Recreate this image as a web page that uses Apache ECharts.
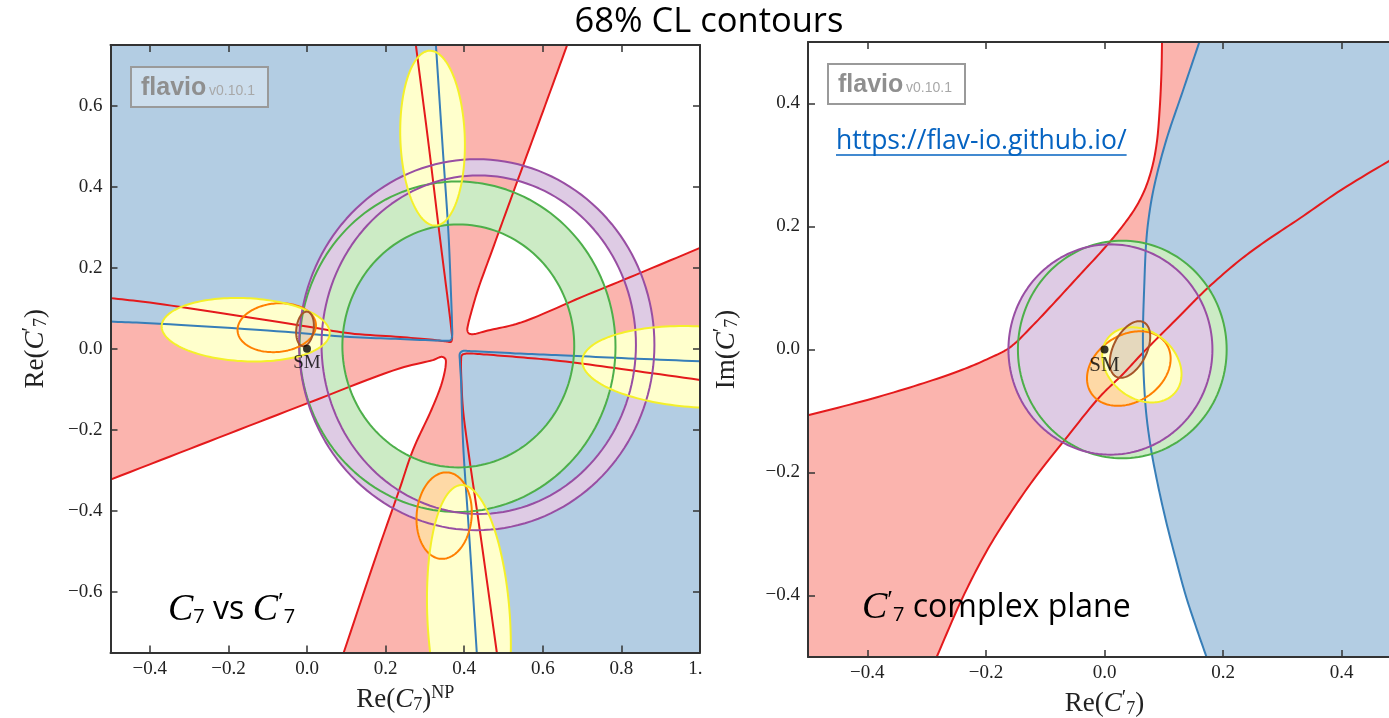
<!DOCTYPE html>
<html><head><meta charset="utf-8">
<script src="https://cdn.jsdelivr.net/npm/echarts@6/dist/echarts.min.js"></script>
<style>html,body{margin:0;padding:0;background:#fff;}#c{width:1389px;height:718px;}</style>
</head><body><div id="c"></div>
<script>
// ---------------- data ----------------
const leftXRange = [-0.5, 1.0];
const leftYRange = [-0.75, 0.75];
const rightXRange = [-0.5, 0.5];
const rightYRange = [-0.5, 0.5];
const leftXTicks = [-0.4, -0.2, 0.0, 0.2, 0.4, 0.6, 0.8, 1.0];
const leftYTicks = [-0.6, -0.4, -0.2, 0.0, 0.2, 0.4, 0.6];
const rightXTicks = [-0.4, -0.2, 0.0, 0.2, 0.4];
const rightYTicks = [-0.4, -0.2, 0.0, 0.2, 0.4];
const smPoint = [0.0, 0.0];

// left panel (Re C7^NP vs Re C7'): red constraint boundaries
const redLeftUR = [[0.662,0.75],[0.60,0.585],[0.53,0.40],[0.47,0.24],[0.435,0.146],[0.418,0.09],[0.41,0.06],[0.408,0.046],[0.412,0.038],[0.422,0.036],[0.46,0.045],[0.542,0.064],[0.70,0.128],[0.85,0.188],[1.0,0.249]];
const redLeftLR = [[1.0,-0.077],[0.80,-0.050],[0.644,-0.030],[0.542,-0.021],[0.45,-0.014],[0.405,-0.012],[0.394,-0.016],[0.392,-0.03],[0.393,-0.08],[0.397,-0.15],[0.41,-0.249],[0.44,-0.45],[0.483,-0.75]];
const redLeftLL = [[0.0935,-0.75],[0.18,-0.50],[0.235,-0.348],[0.27,-0.249],[0.317,-0.15],[0.343,-0.085],[0.353,-0.04],[0.352,-0.025],[0.343,-0.020],[0.32,-0.028],[0.237,-0.048],[0.0,-0.135],[-0.25,-0.229],[-0.5,-0.323]];
const redLeftUL = [[-0.5,0.125],[-0.4,0.114],[-0.2,0.085],[0.0,0.055],[0.109,0.038],[0.237,0.029],[0.32,0.022],[0.355,0.018],[0.366,0.017],[0.369,0.024],[0.367,0.05],[0.361,0.10],[0.355,0.146],[0.337,0.284],[0.31,0.5],[0.277,0.75]];
// left panel blue constraint boundaries
const blueLeftUL = [[0.328,0.75],[0.345,0.5],[0.36,0.284],[0.366,0.146],[0.369,0.06],[0.369,0.03],[0.365,0.021],[0.35,0.02],[0.237,0.024],[0.109,0.029],[-0.1,0.045],[-0.4,0.063],[-0.5,0.067]];
const blueLeftLR = [[1.0,-0.031],[0.8,-0.023],[0.644,-0.016],[0.542,-0.012],[0.42,-0.006],[0.395,-0.006],[0.389,-0.012],[0.389,-0.03],[0.392,-0.08],[0.394,-0.15],[0.398,-0.249],[0.412,-0.45],[0.432,-0.75]];
// ellipses: [centerX, centerY, semiAxisA, semiAxisB, angleDeg]
const greenLeftOuter = [0.383, 0.005, 0.402, 0.408, 0];
const greenLeftInner = [0.385, 0.007, 0.295, 0.300, 0];
const purpleLeftOuter = [0.432, 0.010, 0.452, 0.458, 0];
const purpleLeftInner = [0.437, 0.010, 0.400, 0.418, 0];
const orangeLeft = [[-0.077, 0.052, 0.100, 0.060, 5], [0.349, -0.412, 0.107, 0.070, 85]];
const yellowLeft = [[0.3195, 0.52, 0.216, 0.082, 92], [-0.156, 0.047, 0.214, 0.078, -2.5], [1.0, -0.045, 0.30, 0.10, -3], [0.412, -0.676, 0.34, 0.105, 93.4]];
const brownLeft = [[-0.005, 0.049, 0.043, 0.022, 82]];

// right panel (Re C7' vs Im C7')
const redRightA = [[-0.5,-0.107],[-0.4,-0.082],[-0.3125,-0.057],[-0.24,-0.033],[-0.194,-0.014],[-0.16,0.003],[-0.12,0.04],[-0.081,0.08],[-0.04,0.123],[0.0,0.165],[0.03,0.2],[0.052,0.23],[0.068,0.26],[0.08,0.295],[0.088,0.335],[0.093,0.39],[0.096,0.45],[0.097,0.5]];
const redRightB = [[0.5,0.318],[0.479,0.306],[0.40,0.26],[0.329,0.213],[0.27,0.175],[0.228,0.145],[0.174,0.10],[0.12,0.048],[0.064,-0.006],[0.03,-0.041],[-0.008,-0.077],[-0.067,-0.147],[-0.12,-0.212],[-0.165,-0.275],[-0.2,-0.33],[-0.24,-0.405],[-0.283,-0.5]];
const blueRight = [[0.16,0.5],[0.132,0.42],[0.104,0.34],[0.083,0.262],[0.074,0.21],[0.07,0.17],[0.067,0.102],[0.065,0.04],[0.065,-0.0065],[0.067,-0.06],[0.071,-0.11],[0.079,-0.165],[0.09,-0.22],[0.104,-0.28],[0.12,-0.34],[0.137,-0.40],[0.154,-0.45],[0.172,-0.5]];
const greenRight = [0.030, 0.0, 0.176, 0.177, 0];
const purpleRight = [0.010, 0.0, 0.172, 0.171, 0];
const orangeRight = [0.041, -0.031, 0.075, 0.055, 30];
const yellowRight = [0.063, -0.025, 0.072, 0.055, -35];
const brownRight = [0.043, 0.0, 0.050, 0.028, 62];

// ---------------- styling ----------------
const C = {
  redF:'#fbb4ae', redL:'#e41a1c', blueF:'#b3cde3', blueL:'#377eb8',
  greenF:'#ccebc5', greenL:'#4daf4a', purpleF:'#decbe4', purpleL:'#984ea3',
  orangeF:'#fed9a6', orangeL:'#ff7f00', yellowF:'#ffffcc', yellowL:'#f4f02a',
  brownF:'#e5d8bd', brownL:'#a65628'
};
const LW = 2;
const SERIF = "'Liberation Serif','DejaVu Serif',serif";
const SANS = "'Open Sans','Noto Sans',sans-serif";

// ---------------- helpers ----------------
function ellipsePts(e, n) {
  const [cx, cy, a, b, deg] = e; const th = deg * Math.PI / 180;
  const c = Math.cos(th), s = Math.sin(th); const out = [];
  for (let i = 0; i < n; i++) { const t = 2 * Math.PI * i / n; const u = a * Math.cos(t), v = b * Math.sin(t); out.push([cx + u * c - v * s, cy + u * s + v * c]); }
  return out;
}
function toPx(api, pts) { return pts.map(p => api.coord(p)); }
// centripetal Catmull-Rom rendering of a curve through the read points (pixel space)
function smoothPx(px, n) {
  if (px.length < 3) return px;
  const out = [];
  const d = (a, b) => Math.max(Math.sqrt(Math.hypot(b[0] - a[0], b[1] - a[1])), 1e-4);
  for (let i = 0; i < px.length - 1; i++) {
    const p1 = px[i], p2 = px[i + 1];
    const p0 = i > 0 ? px[i - 1] : [2 * p1[0] - p2[0], 2 * p1[1] - p2[1]];
    const p3 = i + 2 < px.length ? px[i + 2] : [2 * p2[0] - p1[0], 2 * p2[1] - p1[1]];
    const t0 = 0, t1 = t0 + d(p0, p1), t2 = t1 + d(p1, p2), t3 = t2 + d(p2, p3);
    for (let k = 0; k < n; k++) {
      const tt = t1 + (t2 - t1) * k / n;
      const L = (a, b, ta, tb) => [(tb - tt) / (tb - ta) * a[0] + (tt - ta) / (tb - ta) * b[0], (tb - tt) / (tb - ta) * a[1] + (tt - ta) / (tb - ta) * b[1]];
      const A1 = L(p0, p1, t0, t1), A2 = L(p1, p2, t1, t2), A3 = L(p2, p3, t2, t3);
      const B1 = L(A1, A2, t0, t2), B2 = L(A2, A3, t1, t3);
      out.push(L(B1, B2, t1, t2));
    }
  }
  out.push(px[px.length - 1]);
  return out;
}
function curvePx(api, pts) { return smoothPx(toPx(api, pts), 10); }
function clipPolygon(pts, x0, y0, x1, y1) {
  const planes = [[0, x0, 1], [0, x1, -1], [1, y0, 1], [1, y1, -1]];
  let out = pts;
  for (const [k, v, s] of planes) {
    const inp = out; out = [];
    for (let i = 0; i < inp.length; i++) {
      const a = inp[i], b = inp[(i + 1) % inp.length];
      const ia = (a[k] - v) * s >= 0, ib = (b[k] - v) * s >= 0;
      if (ia) out.push(a);
      if (ia !== ib) { const t = (v - a[k]) / (b[k] - a[k]); out.push([a[0] + t * (b[0] - a[0]), a[1] + t * (b[1] - a[1])]); }
    }
  }
  return out;
}
function lb(a, b, x0, y0, x1, y1) {
  let t0 = 0, t1 = 1; const dx = b[0] - a[0], dy = b[1] - a[1];
  const p = [-dx, dx, -dy, dy], q = [a[0] - x0, x1 - a[0], a[1] - y0, y1 - a[1]];
  for (let i = 0; i < 4; i++) {
    if (p[i] === 0) { if (q[i] < 0) return null; }
    else { const t = q[i] / p[i]; if (p[i] < 0) { if (t > t1) return null; if (t > t0) t0 = t; } else { if (t < t0) return null; if (t < t1) t1 = t; } }
  }
  return [[a[0] + t0 * dx, a[1] + t0 * dy], [a[0] + t1 * dx, a[1] + t1 * dy]];
}
function clipLine(pts, x0, y0, x1, y1) {
  const res = []; let cur = null;
  for (let i = 0; i < pts.length - 1; i++) {
    const seg = lb(pts[i], pts[i + 1], x0, y0, x1, y1);
    if (!seg) { if (cur) { res.push(cur); cur = null; } continue; }
    if (cur) { const e = cur[cur.length - 1]; if (Math.abs(e[0] - seg[0][0]) < 0.01 && Math.abs(e[1] - seg[0][1]) < 0.01) { cur.push(seg[1]); continue; } res.push(cur); }
    cur = [seg[0], seg[1]];
  }
  if (cur) res.push(cur);
  return res;
}
function fillPx(r, px, color) {
  return { type: 'polygon', shape: { points: clipPolygon(px, r[0], r[1], r[2], r[3]) }, style: { fill: color, stroke: 'none' } };
}
function strokePx(r, px, color) {
  return clipLine(px, r[0], r[1], r[2], r[3]).map(seg => ({ type: 'polyline', shape: { points: seg }, style: { stroke: color, lineWidth: LW, fill: 'none', lineJoin: 'round', lineCap: 'butt' } }));
}
function ellPx(api, e) { return toPx(api, ellipsePts(e, 160)); }
function fillEllipse(api, r, e, color) { return fillPx(r, ellPx(api, e), color); }
function strokeEllipse(api, r, e, color) { const p = ellPx(api, e); return strokePx(r, p.concat([p[0]]), color); }
function fillRing(api, outer, inner, color) {
  const o = ellPx(api, outer), i = ellPx(api, inner).reverse();
  const f = arr => 'M' + arr.map(p => p[0].toFixed(2) + ' ' + p[1].toFixed(2)).join(' L') + ' Z';
  return { type: 'path', shape: { pathData: f(o) + ' ' + f(i) }, style: { fill: color, stroke: 'none' } };
}

function buildLeft(api, r) {
  const ch = [];
  const xmin = leftXRange[0], xmax = leftXRange[1], ymin = leftYRange[0], ymax = leftYRange[1];
  const rUR = curvePx(api, redLeftUR), rLR = curvePx(api, redLeftLR), rLL = curvePx(api, redLeftLL), rUL = curvePx(api, redLeftUL);
  const bUL = curvePx(api, blueLeftUL), bLR = curvePx(api, blueLeftLR);
  ch.push(fillPx(r, rUR.concat(rLR, rLL, rUL), C.redF));
  ch.push(fillPx(r, bUL.concat([api.coord([xmin, ymax])]), C.blueF));
  ch.push(fillPx(r, bLR.concat([api.coord([xmax, ymin])]), C.blueF));
  ch.push(fillRing(api, greenLeftOuter, greenLeftInner, C.greenF));
  ch.push(fillRing(api, purpleLeftOuter, purpleLeftInner, C.purpleF));
  orangeLeft.forEach(e => ch.push(fillEllipse(api, r, e, C.orangeF)));
  yellowLeft.forEach(e => ch.push(fillEllipse(api, r, e, C.yellowF)));
  brownLeft.forEach(e => ch.push(fillEllipse(api, r, e, C.brownF)));
  [rUR, rLR, rLL, rUL].forEach(c => ch.push(...strokePx(r, c, C.redL)));
  [bUL, bLR].forEach(c => ch.push(...strokePx(r, c, C.blueL)));
  [greenLeftOuter, greenLeftInner].forEach(e => ch.push(...strokeEllipse(api, r, e, C.greenL)));
  [purpleLeftOuter, purpleLeftInner].forEach(e => ch.push(...strokeEllipse(api, r, e, C.purpleL)));
  orangeLeft.forEach(e => ch.push(...strokeEllipse(api, r, e, C.orangeL)));
  yellowLeft.forEach(e => ch.push(...strokeEllipse(api, r, e, C.yellowL)));
  brownLeft.forEach(e => ch.push(...strokeEllipse(api, r, e, C.brownL)));
  return ch;
}
function buildRight(api, r) {
  const ch = [];
  const xmin = rightXRange[0], xmax = rightXRange[1], ymin = rightYRange[0], ymax = rightYRange[1];
  const rA = curvePx(api, redRightA), rB = curvePx(api, redRightB), bR = curvePx(api, blueRight);
  ch.push(fillPx(r, rA.concat([api.coord([xmax, ymax])], rB, [api.coord([xmin, ymin])]), C.redF));
  ch.push(fillPx(r, bR.concat([api.coord([xmax, ymin]), api.coord([xmax, ymax])]), C.blueF));
  ch.push(fillEllipse(api, r, greenRight, C.greenF));
  ch.push(fillEllipse(api, r, purpleRight, C.purpleF));
  ch.push(fillEllipse(api, r, orangeRight, C.orangeF));
  ch.push(fillEllipse(api, r, yellowRight, C.yellowF));
  ch.push(fillEllipse(api, r, brownRight, C.brownF));
  [rA, rB].forEach(c => ch.push(...strokePx(r, c, C.redL)));
  ch.push(...strokePx(r, bR, C.blueL));
  ch.push(...strokeEllipse(api, r, greenRight, C.greenL));
  ch.push(...strokeEllipse(api, r, purpleRight, C.purpleL));
  ch.push(...strokeEllipse(api, r, orangeRight, C.orangeL));
  ch.push(...strokeEllipse(api, r, yellowRight, C.yellowL));
  ch.push(...strokeEllipse(api, r, brownRight, C.brownL));
  return ch;
}
function panel(grid, build) {
  return {
    type: 'custom', xAxisIndex: grid * 2, yAxisIndex: grid * 2, data: [[0, 0]], silent: true, animation: false, z: 2,
    renderItem: (params, api) => { const cs = params.coordSys; const r = [cs.x, cs.y, cs.x + cs.width, cs.y + cs.height]; return { type: 'group', children: build(api, r) }; }
  };
}

const fmt = v => (v < -1e-9 ? '\u2212' : '') + Math.abs(v).toFixed(1);
const nameRich = {
  n: { fontFamily: SERIF, fontSize: 27, color: '#222' },
  i: { fontFamily: SERIF, fontSize: 27, fontStyle: 'italic', color: '#222' },
  s: { fontFamily: SERIF, fontSize: 18, color: '#222', padding: [11, 0, 0, 0] },
  u: { fontFamily: SERIF, fontSize: 18, color: '#222', padding: [0, 0, 12, 0] },
  p: { fontFamily: SERIF, fontSize: 20, color: '#222', padding: [0, 0, 10, 0] }
};
function axis(kind, grid, range, ticks, pos, labels, name, gap) {
  const a = {
    type: 'value', gridIndex: grid, min: range[0], max: range[1], position: pos, z: 10,
    splitLine: { show: false },
    axisLine: { show: true, onZero: false, lineStyle: { color: '#333', width: 2 } },
    axisTick: { show: true, inside: true, length: 7, customValues: ticks, lineStyle: { color: '#333', width: 1.5 } },
    axisLabel: { show: labels, customValues: ticks, formatter: fmt, fontFamily: SERIF, fontSize: 19, color: '#222', margin: kind === 'x' ? 7 : 8 }
  };
  if (name) {
    a.name = name; a.nameLocation = 'middle'; a.nameGap = gap;
    a.nameTextStyle = { rich: nameRich };
    if (kind === 'y') a.nameRotate = 90;
  }
  return a;
}
const leftXName = '{n|Re(}{i|C}{s|7}{n|)}{u|NP}';
const leftYName = '{n|Re(}{i|C}{p|\u2032}{s|7}{n|)}';
const rightXName = '{n|Re(}{i|C}{p|\u2032}{s|7}{n|)}';
const rightYName = '{n|Im(}{i|C}{p|\u2032}{s|7}{n|)}';

const annRich = {
  c: { fontFamily: SERIF, fontSize: 38, fontStyle: 'italic', color: '#000' },
  t: { fontFamily: SANS, fontSize: 32, color: '#000' },
  s: { fontFamily: SANS, fontSize: 20, color: '#000', padding: [14, 0, 0, 0] },
  p: { fontFamily: SERIF, fontSize: 26, color: '#000', padding: [0, 0, 14, 0] }
};

const chart = echarts.init(document.getElementById('c'), null, { renderer: 'canvas' });

const urlText = 'https://flav-io.github.io/';
const urlFont = "26.5px 'Open Sans'";
const mctx = document.createElement('canvas').getContext('2d'); mctx.font = urlFont;
const urlW = mctx.measureText(urlText).width;

function watermark(x, y, bg) {
  return [
    { type: 'rect', z: 50, shape: { x: x, y: y, width: 137, height: 40 }, style: { fill: bg, stroke: '#9a9a9a', lineWidth: 2 } },
    { type: 'text', z: 51, x: x + 10, y: y + 21, style: { text: 'flavio', fill: '#8f8f8f', font: "bold 25px 'Liberation Sans', Arial, sans-serif", textVerticalAlign: 'middle', verticalAlign: 'middle' } },
    { type: 'text', z: 51, x: x + 78, y: y + 24, style: { text: 'v0.10.1', fill: '#a8a8a8', font: "14px 'Liberation Sans', Arial, sans-serif", textVerticalAlign: 'middle', verticalAlign: 'middle' } }
  ];
}

const option = {
  animation: false,
  backgroundColor: '#ffffff',
  grid: [
    { left: 110.5, top: 45, width: 589.5, height: 607.5, containLabel: false, outerBoundsMode: 'none', show: false },
    { left: 808, top: 42, width: 593, height: 615, containLabel: false, outerBoundsMode: 'none', show: false }
  ],
  xAxis: [
    axis('x', 0, leftXRange, leftXTicks, 'bottom', true, leftXName, 32),
    axis('x', 0, leftXRange, leftXTicks, 'top', false),
    axis('x', 1, rightXRange, rightXTicks, 'bottom', true, rightXName, 32),
    axis('x', 1, rightXRange, rightXTicks, 'top', false)
  ],
  yAxis: [
    axis('y', 0, leftYRange, leftYTicks, 'left', true, leftYName, 60),
    axis('y', 0, leftYRange, leftYTicks, 'right', false),
    axis('y', 1, rightYRange, rightYTicks, 'left', true, rightYName, 66),
    axis('y', 1, rightYRange, rightYTicks, 'right', false)
  ],
  series: [
    panel(0, buildLeft),
    panel(1, buildRight),
    { type: 'scatter', xAxisIndex: 0, yAxisIndex: 0, data: [smPoint], symbolSize: 8, z: 5, silent: true,
      itemStyle: { color: '#000' }, label: { show: true, position: 'bottom', distance: 1, formatter: 'SM', fontFamily: SERIF, fontSize: 19, color: '#000' } },
    { type: 'scatter', xAxisIndex: 2, yAxisIndex: 2, data: [smPoint], symbolSize: 8, z: 5, silent: true,
      itemStyle: { color: '#000' }, label: { show: true, position: 'bottom', distance: 1, formatter: 'SM', fontFamily: SERIF, fontSize: 21, color: '#000' } }
  ],
  graphic: [
    { type: 'text', z: 60, x: 709, y: 22, style: { text: '68% CL contours', fill: '#000', font: "34.5px 'Open Sans', sans-serif", textAlign: 'center', align: 'center', textVerticalAlign: 'middle', verticalAlign: 'middle' } },
    ...watermark(131, 67, 'rgba(255,255,255,0.35)'),
    ...watermark(828, 64, 'rgba(255,255,255,1)'),
    { type: 'text', z: 60, x: 836, y: 141, style: { text: urlText, fill: '#0563c1', font: urlFont, textVerticalAlign: 'middle', verticalAlign: 'middle' } },
    { type: 'line', z: 60, shape: { x1: 836, y1: 155, x2: 836 + urlW, y2: 155 }, style: { stroke: '#0563c1', lineWidth: 1.5 } },
    { type: 'text', z: 60, x: 168, y: 610, style: { text: '{c|C}{s|7}{t| vs }{c|C}{p|\u2032}{s|7}', rich: annRich, textVerticalAlign: 'middle', verticalAlign: 'middle' } },
    { type: 'text', z: 60, x: 862, y: 608, style: { text: '{c|C}{p|\u2032}{s|7}{t| complex plane}', rich: annRich, textVerticalAlign: 'middle', verticalAlign: 'middle' } },
    { type: 'rect', z: 100, shape: { x: 703, y: 656, width: 40, height: 34 }, style: { fill: '#fff' } }
  ]
};
chart.setOption(option);
</script></body></html>
